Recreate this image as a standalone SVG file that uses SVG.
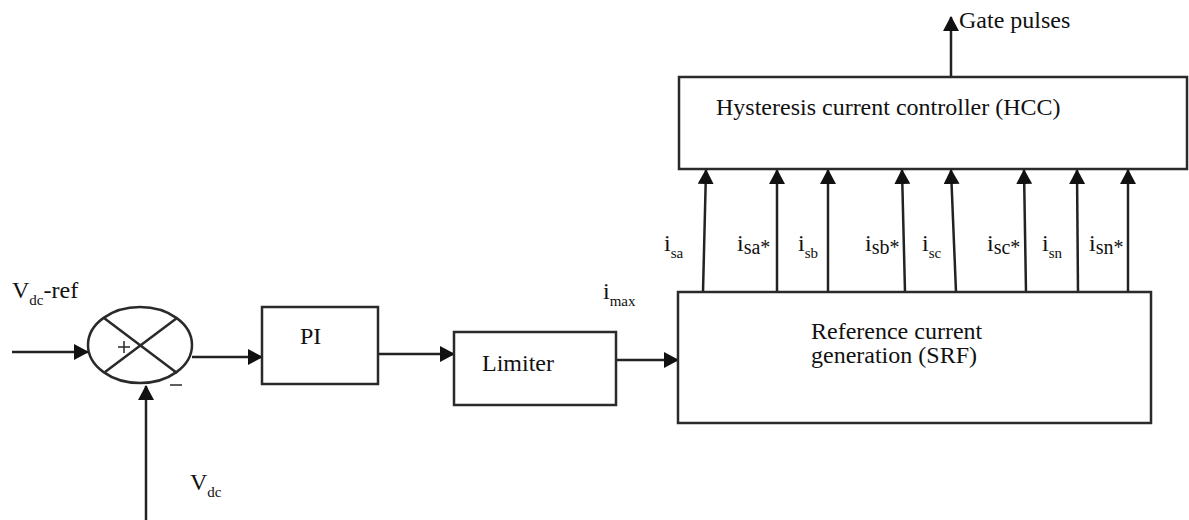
<svg xmlns="http://www.w3.org/2000/svg" width="1189" height="520" viewBox="0 0 1189 520">
<style>
.box{fill:#fff;stroke:#2a2a2a;stroke-width:2.5}
.ln{fill:none;stroke:#2a2a2a;stroke-width:2.5}
.arr{fill:none;stroke:#222;stroke-width:2.5;marker-end:url(#ah)}
text{font-family:"Liberation Serif","Times New Roman",serif;font-size:24px;fill:#111}
.sub{font-size:15px}
.st{font-size:20px}
</style>
<defs>
<marker id="ah" markerUnits="userSpaceOnUse" viewBox="0 0 15 16" refX="14" refY="8" markerWidth="15" markerHeight="16" orient="auto">
<path d="M0,0 L15,8 L0,16 z" fill="#111"/>
</marker>
</defs>
<rect width="1189" height="520" fill="#fff"/>
<g id="connectors">
<path class="arr" d="M12,352 L88,352"/>
<path class="arr" d="M192,357 L262,357"/>
<path class="arr" d="M378,354 L454,354"/>
<path class="arr" d="M616,360 L678,360"/>
<path class="arr" d="M146,520 L146,386"/>
<path class="arr" d="M951,77 L951,17"/>
<path class="arr" d="M703,292 L706,170"/>
<path class="arr" d="M777,292 L777,170"/>
<path class="arr" d="M828,292 L828,170"/>
<path class="arr" d="M905,292 L902,170"/>
<path class="arr" d="M956,292 L951,170"/>
<path class="arr" d="M1026,292 L1024,170"/>
<path class="arr" d="M1078,292 L1077,170"/>
<path class="arr" d="M1128,292 L1128,170"/>
</g>
<g id="sum">
<ellipse class="box" cx="140" cy="345" rx="52" ry="38"/>
<path class="ln" d="M104,318 L177,373 M105,372 L177,318"/>
<path class="ln" stroke-width="1.5" d="M118,347 L130,347 M124,341 L124,353" style="stroke-width:1.5"/>
<path class="ln" d="M170,385 L182,385" style="stroke-width:1.5"/>
</g>
<g id="pi">
<rect class="box" x="262" y="307" width="116" height="77"/>
<text x="300" y="344">PI</text>
</g>
<g id="limiter">
<rect class="box" x="454" y="332" width="162" height="73"/>
<text x="482" y="371">Limiter</text>
</g>
<g id="srf">
<rect class="box" x="678" y="292" width="473" height="131"/>
<text x="811" y="339">Reference current</text>
<text x="811" y="363">generation (SRF)</text>
</g>
<g id="hcc">
<rect class="box" x="679" y="77" width="508" height="92"/>
<text x="716" y="115">Hysteresis current controller (HCC)</text>
</g>
<g id="labels">
<text x="959" y="28">Gate pulses</text>
<text x="12" y="298">V<tspan class="sub" dy="7">dc</tspan><tspan dy="-7">-ref</tspan></text>
<text x="190" y="490">V<tspan class="sub" dy="7">dc</tspan></text>
<text x="603" y="299">i<tspan class="sub" dy="7">max</tspan></text>
<text x="664" y="251">i<tspan class="sub" dy="7">sa</tspan></text>
<text x="737" y="251">i<tspan class="st" dy="3">sa*</tspan></text>
<text x="798" y="251">i<tspan class="sub" dy="7">sb</tspan></text>
<text x="865" y="251">i<tspan class="st" dy="3">sb*</tspan></text>
<text x="922" y="251">i<tspan class="sub" dy="7">sc</tspan></text>
<text x="987" y="251">i<tspan class="st" dy="3">sc*</tspan></text>
<text x="1042" y="251">i<tspan class="sub" dy="7">sn</tspan></text>
<text x="1089" y="251">i<tspan class="st" dy="3">sn*</tspan></text>
</g>
</svg>
